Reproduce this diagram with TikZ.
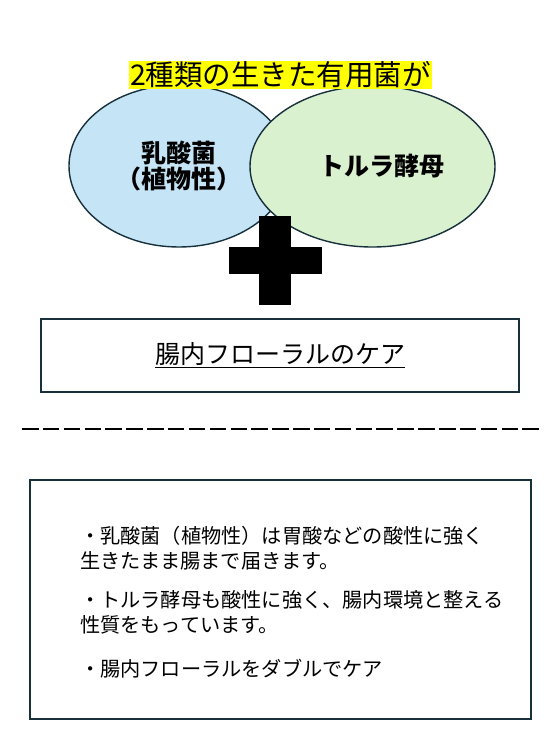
\documentclass[tikz,border=0pt]{standalone}
\usepackage{fontspec}
\setmainfont{Noto Sans CJK JP}
\usepackage{tikz}
\usetikzlibrary{positioning,shapes.geometric}
\definecolor{bluefill}{HTML}{C5E4F5}
\definecolor{greenfill}{HTML}{DAF1D0}
\definecolor{edge}{HTML}{17303B}
\definecolor{hilite}{HTML}{FFFF00}

\begin{document}
\begin{tikzpicture}[x=1pt, y=-1pt,
      font=\fontsize{20.2}{25}\selectfont,
      oval/.style={ellipse, draw=edge, line width=1.4pt, inner sep=0pt,
                   align=center, font=\fontsize{25}{25.5}\selectfont\bfseries},
      frame/.style={draw=edge, line width=1.8pt, inner sep=0pt},
      bar/.style={fill=black, inner sep=0pt},
      note/.style={align=left, anchor=north west, inner sep=0pt}
    ]
    \useasboundingbox (0,0) rectangle (559,745);

    % two bacteria
    \node[oval, fill=bluefill, minimum width=220pt, minimum height=162pt]
      (lab) at (179,166) {乳酸菌\\（植物性）};
    \node[oval, fill=greenfill, minimum width=245pt, minimum height=161pt]
      (yeast) at (372.5,166.5) {\hspace*{18pt}トルラ酵母};

    % title
    \node[fill=hilite, inner sep=1pt, font=\fontsize{28.5}{29}\selectfont]
      (title) at (280.5,75) {2種類の生きた有用菌が};

    % plus sign
    \node[bar, minimum width=32pt, minimum height=89pt] (plusv) at (275,260.5) {};
    \node[bar, minimum width=93pt, minimum height=27pt] (plush) at (275,260.5) {};

    % flora care
    \node[frame, minimum width=478pt, minimum height=73pt] (care) at (280,355.5) {};
    \node[font=\fontsize{25}{26}\selectfont] (caretxt) at (care.center)
      {\underline{腸内フローラルのケア}};

    % separator
    \coordinate (dl) at (22,429);
    \coordinate (dr) at (539,429);
    \draw[line width=2pt, dash pattern=on 16.5pt off 4.35pt] (dl) -- (dr);

    % explanation
    \node[frame, minimum width=501pt, minimum height=239pt] (info) at (280.5,599.5) {};
    \node[note] (n1) at (80,526)
      {・乳酸菌（植物性）は胃酸などの酸性に強く\\生きたまま腸まで届きます。};
    \node[note, below=20pt of n1.south west, anchor=north west] (n2)
      {・トルラ酵母も酸性に強く、腸内環境と整える\\性質をもっています。};
    \node[note, below=25pt of n2.south west, anchor=north west] (n3)
      {・腸内フローラルをダブルでケア};
  \end{tikzpicture}
\end{document}
